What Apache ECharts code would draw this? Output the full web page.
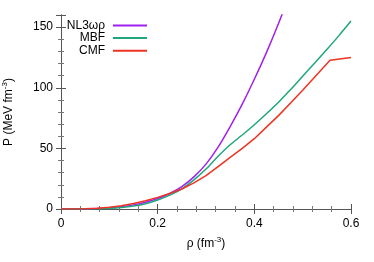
<!DOCTYPE html>
<html><head><meta charset="utf-8">
<script src="https://cdn.jsdelivr.net/npm/echarts@6/dist/echarts.min.js"></script>
<style>html,body{margin:0;padding:0;background:#fff}#c{width:374px;height:262px}</style>
</head><body><div id="c"></div>
<script>
// density values (fm^-3)
const rhoNL3 = [0,0.025,0.05,0.075,0.1,0.125,0.15,0.175,0.2,0.225,0.25,0.275,0.3,0.325,0.35,0.375,0.4,0.425,0.45,0.475];
const pNL3   = [0,0.01,0.1,0.35,0.9,1.9,3.4,5.6,8.6,12.8,18.5,26.5,37,51,68,86.5,107,129,153,179];

const rhoMBF = [0,0.025,0.05,0.075,0.1,0.125,0.15,0.175,0.2,0.225,0.25,0.275,0.3,0.325,0.35,0.375,0.4,0.425,0.45,0.475,0.5,0.525,0.55,0.575,0.6];
const pMBF   = [0,0.01,0.05,0.25,0.6,1.3,2.5,4.4,7.4,11.4,16.6,24,33,43.5,53,61,69.5,78.5,88,98.5,109.5,120.5,131.5,143,155];

const rhoCMF = [0,0.025,0.05,0.075,0.1,0.125,0.15,0.175,0.2,0.225,0.25,0.275,0.3,0.325,0.35,0.375,0.4,0.425,0.45,0.475,0.5,0.525,0.55,0.5566,0.6];
const pCMF   = [0,0.05,0.25,0.7,1.5,2.7,4.5,6.8,9.6,12.8,16.5,21.5,27.5,35,42.5,50,58,67.5,77,87.5,98,108.8,119.7,122.6,125];

const seriesNames = ['NL3ωρ','MBF','CMF'];
const colors = ['#a020f0','#1fa67d','#ee3322'];
const xTicks = [0,0.2,0.4,0.6];
const yTicks = [0,50,100,150];

const pairs = (xs, ys) => xs.map((x,i)=>[x, ys[i]]);
const font = 'Liberation Sans, Arial, sans-serif';
const chart = echarts.init(document.getElementById('c'));
const axisCommon = {
  axisLine:{show:true, lineStyle:{color:'#555', width:1}},
  axisTick:{show:true, inside:true, length:5, lineStyle:{color:'#555'}},
  minorTick:{show:true, splitNumber:5, length:3, lineStyle:{color:'#777'}},
  splitLine:{show:false}
};
const legends = seriesNames.map((n,i)=>({
  data:[n], orient:'vertical', align:'right', right:227, top:19.5+i*12.6,
  itemWidth:34, itemHeight:2, itemGap:0, icon:'rect',
  textStyle:{fontFamily:font, fontSize:12, color:'#000', padding:[0,3,0,0]},
  selectedMode:false, padding:0
}));
chart.setOption({
  animation:false,
  grid:{left:61, right:23, top:15, bottom:53, outerBoundsMode:'none', containLabel:false},
  legend: legends,
  xAxis:[
    Object.assign({type:'value', min:xTicks[0], max:xTicks[xTicks.length-1], interval:0.2,
      name:'ρ (fm{sup|-3})', nameLocation:'middle', nameGap:27,
      nameTextStyle:{fontFamily:font, fontSize:12, color:'#000', rich:{sup:{fontSize:8, verticalAlign:'top', padding:[0,0,8,0], fontFamily:font}}},
      axisLabel:{fontFamily:font, fontSize:12, color:'#000', margin:9, formatter:v=>String(v)}}, axisCommon),
    Object.assign({type:'value', position:'top', min:0, max:0.6, interval:0.2, axisLabel:{show:false}}, axisCommon)
  ],
  yAxis:[
    Object.assign({type:'value', min:0, max:160, interval:50,
      name:'P (MeV fm{sup|-3})', nameLocation:'middle', nameGap:44, nameRotate:90,
      nameTextStyle:{fontFamily:font, fontSize:12, color:'#000', rich:{sup:{fontSize:8, verticalAlign:'top', padding:[0,0,8,0], fontFamily:font}}},
      axisLabel:{fontFamily:font, fontSize:12, color:'#000', margin:8, showMaxLabel:false}}, axisCommon),
    Object.assign({type:'value', position:'right', min:0, max:160, interval:50, axisLabel:{show:false}}, axisCommon)
  ],
  series:[
    {name:seriesNames[0], type:'line', data:pairs(rhoNL3,pNL3), smooth:0.3, showSymbol:false, lineStyle:{width:1.5, color:colors[0]}, itemStyle:{color:colors[0]}},
    {name:seriesNames[1], type:'line', data:pairs(rhoMBF,pMBF), smooth:0.3, showSymbol:false, lineStyle:{width:1.5, color:colors[1]}, itemStyle:{color:colors[1]}},
    {name:seriesNames[2], type:'line', data:pairs(rhoCMF,pCMF), smooth:false, showSymbol:false, lineStyle:{width:1.5, color:colors[2]}, itemStyle:{color:colors[2]}}
  ]
});
</script></body></html>
